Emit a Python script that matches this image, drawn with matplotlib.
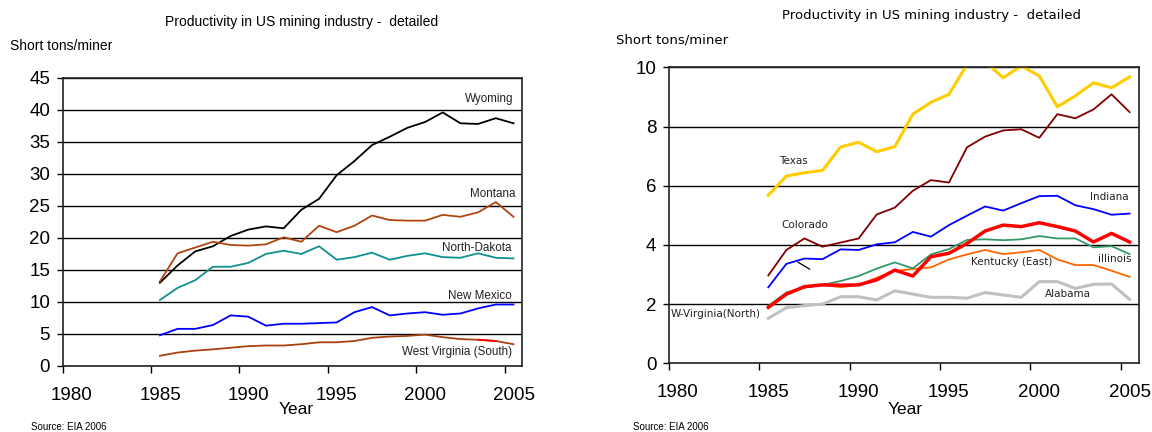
import numpy as np
import matplotlib
matplotlib.use("Agg")
import matplotlib.pyplot as plt
from matplotlib.transforms import ScaledTranslation

plt.rcParams['font.family'] = ['Liberation Sans', 'DejaVu Sans']

# Data points sit in the middle of each year (1985.5 ... 2005.5)
years = np.arange(1985, 2006) + 0.5

# Left panel: western / large producers
wyoming = [13.0, 15.7, 17.9, 18.7, 20.3, 21.3, 21.8, 21.5, 24.4, 26.1, 29.8,
           32.0, 34.5, 35.8, 37.2, 38.1, 39.6, 37.9, 37.8, 38.7, 37.9]
montana = [13.2, 17.6, 18.5, 19.4, 18.9, 18.8, 19.0, 20.1, 19.4, 21.9, 20.9,
           21.9, 23.5, 22.8, 22.7, 22.7, 23.6, 23.3, 24.0, 25.6, 23.3]
north_dakota = [10.3, 12.2, 13.4, 15.5, 15.5, 16.1, 17.5, 18.0, 17.5, 18.7, 16.6,
                17.0, 17.7, 16.6, 17.2, 17.6, 17.0, 16.9, 17.6, 16.9, 16.8]
new_mexico = [4.8, 5.8, 5.8, 6.4, 7.9, 7.7, 6.3, 6.6, 6.6, 6.7, 6.8,
              8.4, 9.2, 7.9, 8.2, 8.4, 8.0, 8.2, 9.0, 9.6, 9.6]
wv_south = [1.6, 2.1, 2.4, 2.6, 2.85, 3.1, 3.2, 3.2, 3.4, 3.7, 3.7,
            3.9, 4.4, 4.6, 4.7, 4.9, 4.5, 4.2, 4.1, 3.9, 3.4]

# Right panel: smaller producers
texas = [5.68, 6.33, 6.44, 6.52, 7.31, 7.47, 7.15, 7.32, 8.42, 8.82, 9.09,
         10.1, 10.2, 9.65, 10.05, 9.71, 8.67, 9.04, 9.48, 9.31, 9.68]
colorado = [2.97, 3.83, 4.22, 3.94, 4.08, 4.22, 5.03, 5.26, 5.83, 6.19, 6.11,
            7.30, 7.66, 7.87, 7.91, 7.62, 8.42, 8.28, 8.58, 9.09, 8.49]
indiana = [2.57, 3.36, 3.54, 3.52, 3.85, 3.83, 4.02, 4.09, 4.44, 4.28, 4.67,
           4.99, 5.30, 5.16, 5.41, 5.65, 5.66, 5.34, 5.21, 5.02, 5.06]
red_series = [1.89, 2.34, 2.59, 2.65, 2.64, 2.65, 2.82, 3.15, 2.95, 3.60, 3.72,
              4.05, 4.47, 4.67, 4.62, 4.75, 4.62, 4.47, 4.10, 4.39, 4.10]
green_series = [1.94, 2.39, 2.56, 2.65, 2.78, 2.95, 3.20, 3.41, 3.21, 3.68, 3.86,
                4.17, 4.19, 4.16, 4.19, 4.30, 4.22, 4.22, 3.92, 3.96, 3.69]
orange_series = [1.91, 2.31, 2.57, 2.65, 2.57, 2.65, 2.89, 3.12, 3.19, 3.24, 3.51,
                 3.68, 3.83, 3.69, 3.75, 3.83, 3.51, 3.32, 3.32, 3.13, 2.92]
gray_series = [1.52, 1.88, 1.95, 2.00, 2.25, 2.25, 2.14, 2.45, 2.34, 2.23, 2.23,
               2.20, 2.39, 2.31, 2.23, 2.76, 2.76, 2.53, 2.67, 2.68, 2.16]

TITLE = 'Productivity in US mining industry -  detailed'


def style_axes(fig, ax, ymax, ystep):
    ax.set_xlim(1980, 2006)
    ax.set_ylim(0, ymax)
    ax.set_xticks(np.arange(1980, 2006, 5))
    ax.set_yticks(np.arange(0, ymax + 0.01, ystep))
    ax.yaxis.grid(True, color='black', linewidth=1.0)
    ax.set_axisbelow(True)
    for s in ax.spines.values():
        s.set_color('#222222')
        s.set_linewidth(1.2)
    ax.tick_params(axis='x', length=5, width=1, pad=10, labelsize=13.5)
    ax.tick_params(axis='y', length=4, width=1, pad=5, labelsize=13.5)
    # Excel-like category labels, shifted right of their ticks
    shift = ScaledTranslation(9 / 100, 0, fig.dpi_scale_trans)
    for lab in ax.get_xticklabels():
        lab.set_transform(lab.get_transform() + shift)


fig = plt.figure(figsize=(11.52, 4.32), dpi=100)

# ---- left panel
ax1 = fig.add_axes([0.0544, 0.1528, 0.399, 0.667])
ax1.plot(years, wyoming, color='black', lw=1.3)
ax1.plot(years, montana, color='#B0440F', lw=1.3)
ax1.plot(years, north_dakota, color='#109090', lw=1.3)
ax1.plot(years, new_mexico, color='#0000FF', lw=1.3)
ax1.plot(years, wv_south, color='#A8420E', lw=1.3)
ax1.plot(years[18:20], wv_south[18:20], color='#FF0000', lw=1.3)
style_axes(fig, ax1, 45, 5)

lab_kw = dict(fontsize=8.4, ha='center', va='center', color='#222222')
ax1.text(2004.15, 41.7, 'Wyoming', **lab_kw)
ax1.text(2004.3, 26.9, 'Montana', **lab_kw)
ax1.text(2003.4, 18.5, 'North-Dakota', **lab_kw)
ax1.text(2003.6, 11.0, 'New Mexico', **lab_kw)
ax1.text(2002.3, 2.2, 'West Virginia (South)', **lab_kw)

fig.text(302 / 1152, 1 - 22 / 432, TITLE, fontsize=10, ha='center', va='center')
fig.text(10 / 1152, 1 - 46 / 432, 'Short tons/miner', fontsize=10, ha='left', va='center')
fig.text(296 / 1152, 1 - 409 / 432, 'Year', fontsize=12.5, ha='center', va='center')
fig.text(31 / 1152, 1 - 427 / 432, 'Source: EIA 2006', fontsize=7, ha='left', va='center')

# ---- right panel
ax2 = fig.add_axes([0.5807, 0.159, 0.4077, 0.685])
ax2.plot(years, gray_series, color='#C0C0C0', lw=2.2)
ax2.plot(years, orange_series, color='#FF6600', lw=1.3)
ax2.plot(years, green_series, color='#339966', lw=1.3)
ax2.plot(years, red_series, color='#FF0000', lw=2.5)
ax2.plot(years, indiana, color='#0000FF', lw=1.3)
ax2.plot(years, colorado, color='#800000', lw=1.3)
ax2.plot(years, texas, color='#FFCC00', lw=2.2)
style_axes(fig, ax2, 10, 2)

rk = dict(fontsize=7.5, ha='center', va='center', color='#222222', family='DejaVu Sans')
ax2.text(1986.88, 6.85, 'Texas', **rk)
ax2.text(1987.52, 4.68, 'Colorado', **rk)
ax2.text(2004.4, 5.63, 'Indiana', **rk)
ax2.text(2004.7, 3.52, 'illinois', **rk)
ax2.text(1998.98, 3.42, 'Kentucky (East)', **rk)
ax2.text(2002.07, 2.34, 'Alabama', **rk)
ax2.text(1982.6, 1.67, 'W-Virginia(North)', **rk)
ax2.annotate('', xy=(1987.93, 3.13), xytext=(1987.0, 3.47),
             arrowprops=dict(arrowstyle='-', color='black', lw=0.9))

fig.text(931 / 1152, 1 - 15 / 432, TITLE, fontsize=9.5, ha='center', va='center',
         family='DejaVu Sans')
fig.text(616 / 1152, 1 - 40 / 432, 'Short tons/miner', fontsize=9.5, ha='left', va='center',
         family='DejaVu Sans')
fig.text(905 / 1152, 1 - 409 / 432, 'Year', fontsize=12.5, ha='center', va='center')
fig.text(633 / 1152, 1 - 427 / 432, 'Source: EIA 2006', fontsize=7, ha='left', va='center')

fig.savefig('out.png', dpi=100)
